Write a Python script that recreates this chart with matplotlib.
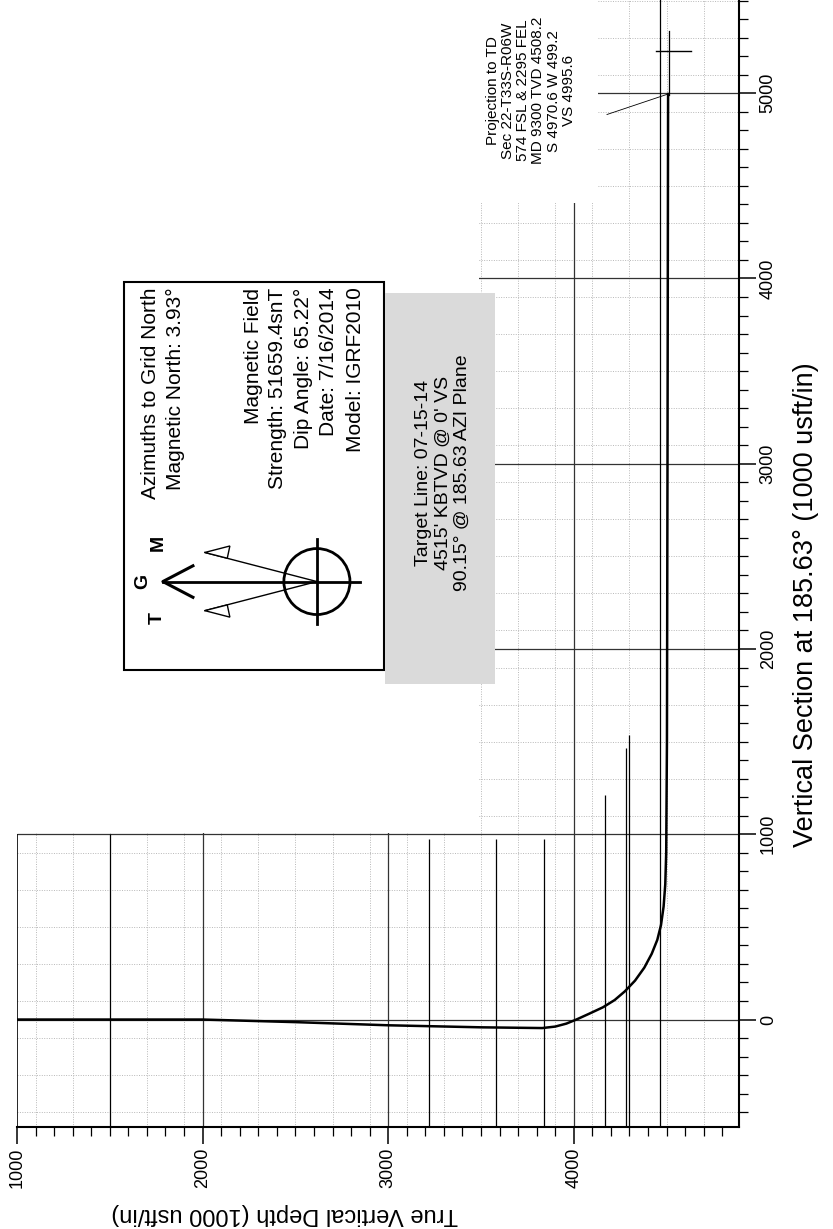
import numpy as np
import matplotlib.pyplot as plt
from matplotlib.patches import Rectangle, Circle, Polygon
from matplotlib.ticker import MultipleLocator

plt.rcParams['font.family'] = ['Liberation Sans', 'DejaVu Sans']

# well path: true vertical depth vs vertical section (usft)
well_tvd = [1000, 2000, 2500, 3000, 3500, 3830, 3900, 3960, 4014, 4080, 4157, 4220,
            4275, 4330, 4380, 4420, 4450, 4470, 4484, 4493, 4498, 4502, 4505, 4508.2]
well_vs = [0, 0, -14, -31, -42, -46, -38, -22, 0, 30, 66, 105,
           152, 210, 280, 355, 430, 510, 610, 730, 900, 1500, 3000, 4995.6]

# formation / marker lines: TVD and how far up the section each one is drawn
marker_tvd = [1500, 3220, 3580, 3840, 4168, 4281, 4297, 4464]
marker_top = [1000, 975, 975, 975, 1214, 1463, 1538, 5600]

# target "+" and TD annotation
target_tvd = 4515
target_vs = 5230
td_tvd = 4508.2
td_vs = 4995.6

tvd_ticks = [1000, 2000, 3000, 4000]
vs_ticks = [0, 1000, 2000, 3000, 4000, 5000]

xmin, xmax = 1000, 4890
ymin, ymax = -580, 5503

fig = plt.figure(figsize=(8.33, 12.29), dpi=100)
ax = fig.add_axes([0.0204, 0.0830, 0.8667, 0.9170])
ax.set_xlim(xmin, xmax)
ax.set_ylim(ymin, ymax)

# grid: dark lines every 1000, faint dotted lines on the odd hundreds
minor_tvd = np.arange(1100, xmax, 200)
minor_vs = np.arange(-500, ymax, 200)
ax.vlines(minor_tvd, ymin, ymax, colors='#b8b8b8', lw=0.7, linestyles=(0, (1, 1.5)), zorder=0.5)
ax.hlines(minor_vs, xmin, xmax, colors='#b8b8b8', lw=0.7, linestyles=(0, (1, 1.5)), zorder=0.5)
ax.vlines(tvd_ticks[1:], ymin, ymax, colors='#333333', lw=0.9, zorder=0.6)
ax.hlines(vs_ticks, xmin, xmax, colors='#333333', lw=0.9, zorder=0.6)

# blank legend areas hide the grid
ax.add_patch(Rectangle((xmin - 50, 1006), 3490 - xmin + 50, ymax - 1006 + 200,
                       facecolor='white', edgecolor='none', zorder=1))
ax.add_patch(Rectangle((3490, 4407), 4130 - 3490, ymax - 4407 + 200,
                       facecolor='white', edgecolor='none', zorder=1))

# left border of the lower-left block
ax.vlines(xmin, ymin, 1000, colors='k', lw=1.2, zorder=2)

# marker lines
ax.vlines(marker_tvd, ymin, marker_top, colors='k', lw=0.9, zorder=2)

# well path
ax.plot(well_tvd, well_vs, color='k', lw=1.8, zorder=3)

# target cross and TD leader
ax.plot([target_tvd, target_tvd], [td_vs - 5, 5335], color='k', lw=0.9, zorder=3)
ax.plot([4443, 4632], [target_vs, target_vs], color='k', lw=1.0, zorder=3)
ax.plot([4179, td_tvd], [4885, td_vs], color='k', lw=0.6, zorder=3)

ax.text(3769, 5014, "Projection to TD\nSec 22-T33S-R06W\n574 FSL & 2295 FEL\n"
        "MD 9300 TVD 4508.2\nS 4970.6 W 499.2\nVS 4995.6",
        rotation=90, ha='center', va='center', multialignment='center',
        fontsize=11, linespacing=1.1, zorder=5)

# magnetic field box
ax.add_patch(Rectangle((1577, 1889), 2977 - 1577, 3983 - 1889,
                       facecolor='white', edgecolor='k', lw=1.5, zorder=3))
box_lines = ["Azimuths to Grid North", "Magnetic North: 3.93\u00b0",
             "Magnetic Field", "Strength: 51659.4snT", "Dip Angle: 65.22\u00b0",
             "Date: 7/16/2014", "Model: IGRF2010"]
box_line_tvd = [1717, 1852, 2277, 2401, 2541, 2681, 2826]
for txt, lx in zip(box_lines, box_line_tvd):
    ax.text(lx, 3951, txt, rotation=90, rotation_mode='anchor',
            ha='right', va='center', fontsize=15, zorder=5)

# north arrows
cx, cy = 2616, 2364
ax.add_patch(Circle((cx, cy), 178, fill=False, lw=2, zorder=4))
ax.plot([cx, cx], [cy - 230, cy + 230], color='k', lw=2, zorder=4)
ax.plot([cx - 830, cx + 232], [cy, cy], color='k', lw=2, zorder=4)
gx = cx - 830
ax.plot([gx + 162, gx, gx + 162], [cy + 85, cy, cy - 85], color='k', lw=2.2, zorder=4)
for s in (1, -1):
    tip = (cx - 604, cy + 157 * s)
    ax.plot([cx, tip[0]], [cy, tip[1]], color='k', lw=1.0, zorder=4)
    ax.add_patch(Polygon([tip, (cx - 469, cy + 192 * s), (cx - 483, cy + 126 * s)],
                         closed=True, facecolor='white', edgecolor='k', lw=1.0, zorder=4))
ax.text(cx - 862, cy - 194, "T", rotation=90, ha='center', va='center',
        fontsize=14, fontweight='bold', zorder=5)
ax.text(cx - 938, cy, "G", rotation=90, ha='center', va='center',
        fontsize=14, fontweight='bold', zorder=5)
ax.text(cx - 857, cy + 210, "M", rotation=90, ha='center', va='center',
        fontsize=14, fontweight='bold', zorder=5)

# target line box
ax.add_patch(Rectangle((2983, 1813), 3575 - 2983, 3919 - 1813,
                       facecolor='#dadada', edgecolor='none', zorder=3))
ax.text(3295, 2950, "Target Line: 07-15-14\n4515' KBTVD @ 0' VS\n90.15\u00b0 @ 185.63 AZI Plane",
        rotation=90, ha='center', va='center', multialignment='center',
        fontsize=14, linespacing=1.15, zorder=5)

# axes styling
for side in ('left', 'top'):
    ax.spines[side].set_visible(False)
for side in ('bottom', 'right'):
    ax.spines[side].set_linewidth(1.5)
    ax.spines[side].set_zorder(4)

ax.set_xticks(tvd_ticks)
ax.set_yticks(vs_ticks)
ax.xaxis.set_minor_locator(MultipleLocator(100))
ax.yaxis.set_minor_locator(MultipleLocator(100))
ax.yaxis.tick_right()
ax.tick_params(axis='both', which='major', direction='out', length=12, width=1.1,
               labelsize=13, labelrotation=90, pad=3)
ax.tick_params(axis='both', which='minor', direction='out', length=6.5, width=0.9)
ax.tick_params(left=False, top=False, which='both')
for lbl in ax.get_yticklabels():
    lbl.set_va('center')

fig.text(806 / 833, 1 - 605 / 1229, "Vertical Section at 185.63\u00b0 (1000 usft/in)",
         rotation=90, ha='center', va='center', fontsize=19.5)
fig.text(285 / 833, 1 - 1214 / 1229, "True Vertical Depth (1000 usft/in)",
         rotation=180, ha='center', va='center', fontsize=17)

fig.savefig('out.png', dpi=100)
